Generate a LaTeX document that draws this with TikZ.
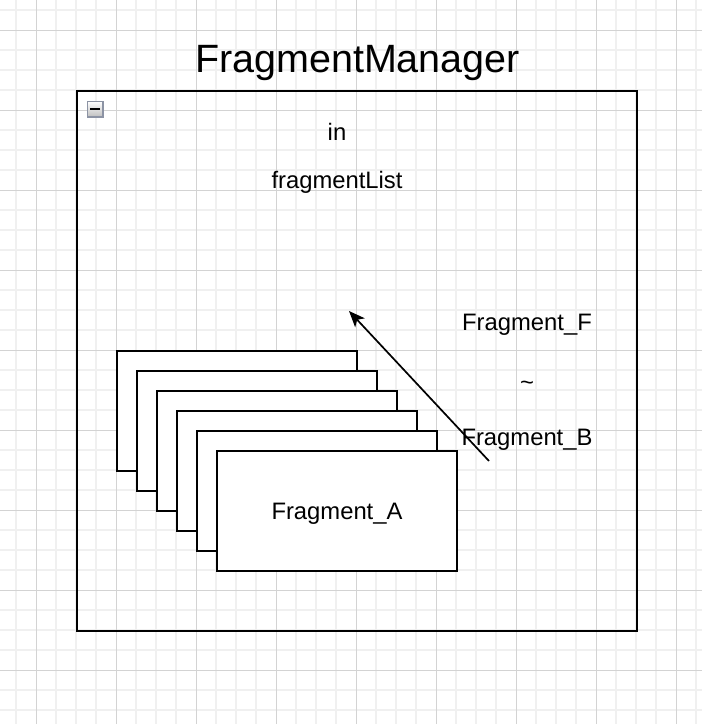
\documentclass[tikz,border=0pt]{standalone}
\usepackage{fontspec}
\setmainfont{Liberation Sans}
\usetikzlibrary{arrows.meta}
\definecolor{gridminor}{HTML}{F0F0F0}
\definecolor{gridmajor}{HTML}{D3D3D3}
\definecolor{togborder}{HTML}{8C93A4}
\begin{document}
\begin{tikzpicture}[x=1pt,y=-1pt,
  minorline/.style={draw=gridminor, line width=1.6pt},
  majorline/.style={draw=gridmajor, line width=1pt},
  fragbox/.style={draw=black, line width=2pt, fill=white, minimum width=240pt, minimum height=120pt, inner sep=0pt},
  lbl/.style={font=\fontsize{23.8}{28}\selectfont, anchor=base, inner sep=0pt},
]
\useasboundingbox (0,0) rectangle (702,724);
\fill[white] (0,0) rectangle (702,724);
% grid
\foreach \x in {16,56,76,96,136,156,176,216,236,256,296,316,336,376,396,416,456,476,496,536,556,576,616,636,656,696} \draw[minorline] (\x,0) -- (\x,724);
\foreach \y in {10,50,70,90,130,150,170,210,230,250,290,310,330,370,390,410,450,470,490,530,550,570,610,630,650,690,710} \draw[minorline] (0,\y) -- (702,\y);
\foreach \x in {36,116,...,696} \draw[majorline] (\x,0) -- (\x,724);
\foreach \y in {30,110,...,724} \draw[majorline] (0,\y) -- (702,\y);
% container
\node (mgr) [draw=black, line width=2pt, minimum width=560pt, minimum height=540pt, inner sep=0pt] at (357,361) {};
\node (title) [anchor=base, inner sep=0pt, font=\fontsize{39.5}{46}\selectfont] at (357.5,72.3) {FragmentManager};
% toggle icon
\node (tog) [draw=togborder, line width=1.5pt, minimum size=15.5pt, inner sep=0pt, top color=white, bottom color=black!25] at (95,109) {};
\draw[line width=2pt] ([xshift=-5pt]tog.center) -- ([xshift=5pt]tog.center);
% texts
\node (in) [lbl] at (337,140.7) {in};
\node (flist) [lbl] at (337,188.3) {fragmentList};
% stacked fragments
\node (f1) [fragbox] at (237,411) {};
\node (f2) [fragbox] at (257,431) {};
\node (f3) [fragbox] at (277,451) {};
\node (f4) [fragbox] at (297,471) {};
\node (f5) [fragbox] at (317,491) {};
\node (fa) [fragbox] at (337,511) {};
\node (falbl) [lbl] at ([yshift=-8pt]fa.center) {Fragment\_A};
% arrow
\coordinate (as) at (489,461);
\coordinate (ae) at (349,311);
\draw[line width=1.7pt, -{Stealth[length=16pt, width=13pt, inset=4pt]}] (as) -- (ae);
% right texts
\node (ff) [lbl] at (527,330.7) {Fragment\_F};
\node (tl) [lbl] at (527,390) {\char`\~};
\node (fb) [lbl] at (527,445) {Fragment\_B};
\end{tikzpicture}
\end{document}
